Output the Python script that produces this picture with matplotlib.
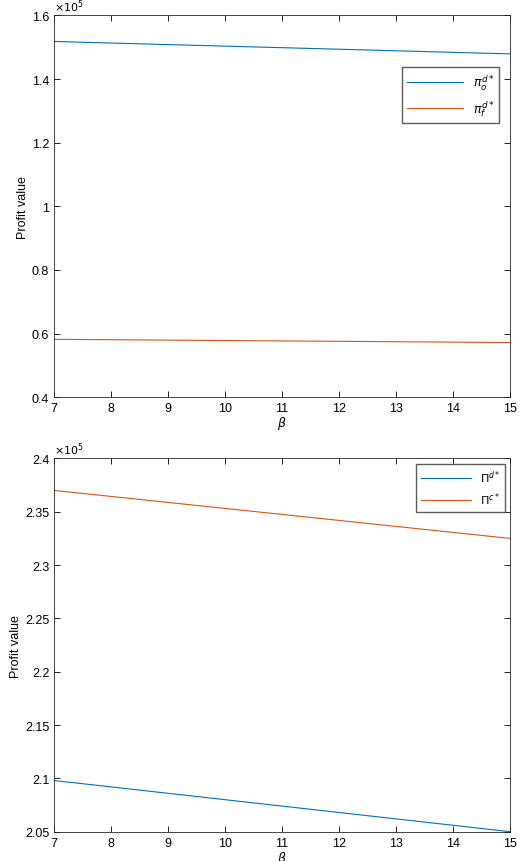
import numpy as np
import matplotlib
matplotlib.use("Agg")
from matplotlib import pyplot as plt

beta = [7, 15]
pi_o = [1.518, 1.479]
pi_f = [0.582, 0.572]
Pi_d = [2.098, 2.050]
Pi_c = [2.370, 2.325]

plt.rcParams['font.family'] = ['Liberation Sans', 'DejaVu Sans']
plt.rcParams['font.size'] = 9
plt.rcParams['mathtext.fontset'] = 'dejavusans'

blue = "#0072BD"
orange = "#D95319"

fig = plt.figure(figsize=(5.2, 8.62), dpi=100)
ax1 = fig.add_axes([0.104, 0.538, 0.877, 0.443])
ax2 = fig.add_axes([0.104, 0.034, 0.877, 0.433])

ax1.plot(beta, pi_o, color=blue, lw=0.8, label=r"$\pi_o^{d*}$")
ax1.plot(beta, pi_f, color=orange, lw=0.8, label=r"$\pi_f^{d*}$")
ax1.set_ylim(0.4, 1.6)
ax1.set_yticks(np.arange(0.4, 1.61, 0.2))
ax1.set_yticklabels(["0.4", "0.6", "0.8", "1", "1.2", "1.4", "1.6"])
ax1.legend(loc="upper right", bbox_to_anchor=(0.99, 0.88), fancybox=False,
           edgecolor="#333333", fontsize=9, handlelength=4.5)

ax2.plot(beta, Pi_d, color=blue, lw=0.8, label=r"$\Pi^{d*}$")
ax2.plot(beta, Pi_c, color=orange, lw=0.8, label=r"$\Pi^{c*}$")
ax2.set_ylim(2.05, 2.4)
ax2.set_yticks(np.arange(2.05, 2.401, 0.05))
ax2.set_yticklabels(["2.05", "2.1", "2.15", "2.2", "2.25", "2.3", "2.35", "2.4"])
ax2.legend(loc="upper right", fancybox=False, edgecolor="#333333",
           fontsize=8, handlelength=4.5)

for ax in (ax1, ax2):
    ax.set_xlim(7, 15)
    ax.set_xticks(range(7, 16))
    ax.set_xlabel(r"$\beta$", labelpad=0)
    ax.set_ylabel("Profit value", labelpad=2)
    ax.tick_params(direction="in", top=True, right=True, length=4, width=0.6)
    for s in ax.spines.values():
        s.set_linewidth(0.6)
        s.set_color("#262626")
    ax.text(0.0, 1.003, r"$\times 10^5$", transform=ax.transAxes,
            ha="left", va="bottom", fontsize=8)

fig.savefig("out.png", dpi=100)
